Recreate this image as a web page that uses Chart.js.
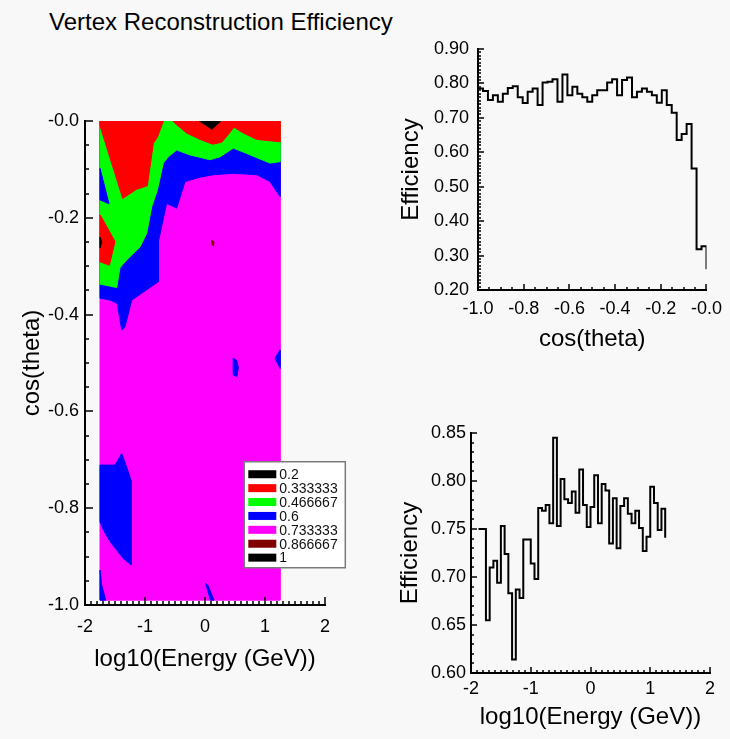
<!DOCTYPE html>
<html>
<head>
<meta charset="utf-8">
<title>Vertex Reconstruction Efficiency</title>
<script src="https://cdn.jsdelivr.net/npm/chart.js@4.4.1/dist/chart.umd.min.js"></script>
<style>
  html, body { margin: 0; padding: 0; background: #f8f8f8; }
  body { width: 730px; height: 739px; position: relative; overflow: hidden; font-family: 'Liberation Sans', Arial, sans-serif; }
  #title { position: absolute; left: 49px; top: 10px; font-size: 24px; line-height: 24px; color: #000; white-space: nowrap; }
  canvas { position: absolute; }
  #contourChart { left: 0; top: 100px; }
  #cosChart { left: 380px; top: 20px; }
  #energyChart { left: 380px; top: 400px; }
</style>
</head>
<body>
<div id="title">Vertex Reconstruction Efficiency</div>
<canvas id="contourChart" width="360" height="580"></canvas>
<canvas id="cosChart" width="350" height="345"></canvas>
<canvas id="energyChart" width="350" height="339"></canvas>

<script>
// ---- data ----

// efficiency vs cos(theta), 46 bins from -1.0 to 0.0
const cosRange = [-1.0, 0.0];
const cosEfficiency = [
  0.785, 0.778, 0.752, 0.766, 0.747, 0.770, 0.787, 0.792, 0.760, 0.743,
  0.776, 0.785, 0.737, 0.803, 0.805, 0.812, 0.747, 0.826, 0.766, 0.790,
  0.770, 0.760, 0.747, 0.766, 0.780, 0.780, 0.803, 0.812, 0.766, 0.810,
  0.817, 0.760, 0.776, 0.785, 0.776, 0.766, 0.744, 0.780, 0.737, 0.715,
  0.636, 0.653, 0.682, 0.553, 0.318, 0.327
];
const cosClosingValue = 0.26;

// efficiency vs log10(E), 50 bins of 0.0625 starting at -1.875
const energyStart = -1.875;
const energyBinWidth = 0.0625;
const energyEfficiency = [
  0.750, 0.750, 0.655, 0.710, 0.717, 0.694, 0.753, 0.724, 0.683, 0.614,
  0.687, 0.678, 0.739, 0.739, 0.714, 0.698, 0.772, 0.769, 0.775, 0.756,
  0.845, 0.753, 0.802, 0.781, 0.777, 0.789, 0.767, 0.812, 0.775, 0.752,
  0.773, 0.806, 0.756, 0.797, 0.790, 0.735, 0.782, 0.730, 0.774, 0.782,
  0.766, 0.756, 0.769, 0.751, 0.727, 0.742, 0.794, 0.777, 0.749, 0.771
];
const energyClosingValue = 0.741;

// contour levels and their colours
const levelValues = ['0.2', '0.333333', '0.466667', '0.6', '0.733333', '0.866667', '1'];
const levelColors = ['#000000', '#ff0000', '#00ff00', '#0000ff', '#ff00ff', '#800000', '#000000'];

// contour map extent, [log10(E), cos(theta)]
const mapEnergyRange = [-1.75, 1.25];
const mapCosRange = [-0.99, 0.0];

// level boundaries, [log10(E), cos(theta)] from left to right
const magentaTop = [[-1.75, -0.366], [-1.583, -0.370], [-1.462, -0.377], [-1.388, -0.432], [-1.333, -0.425],
  [-1.222, -0.370], [-0.778, -0.332], [-0.778, -0.249], [-0.639, -0.170], [-0.472, -0.180], [-0.333, -0.125],
  [-0.083, -0.116], [0.138, -0.111], [0.472, -0.108], [0.862, -0.111], [1.083, -0.125], [1.25, -0.156]];
const blueTop = [[-1.75, -0.337], [-1.472, -0.344], [-1.417, -0.303], [-1.305, -0.287], [-1.083, -0.260],
  [-0.972, -0.232], [-0.888, -0.177], [-0.795, -0.143], [-0.695, -0.087], [-0.612, -0.074], [-0.472, -0.060],
  [-0.25, -0.070], [0.083, -0.080], [0.25, -0.074], [0.472, -0.056], [0.695, -0.067], [1.083, -0.087], [1.25, -0.084]];

// closed regions
const redTopLeft = [[-1.75, 0], [-0.694, 0], [-0.794, -0.034], [-0.861, -0.046], [-0.961, -0.134],
  [-1.139, -0.141], [-1.372, -0.160], [-1.75, -0.010]];
const redTopRight = [[-0.539, 0], [1.25, 0], [1.25, -0.043], [0.861, -0.038], [0.639, -0.025], [0.483, -0.013],
  [0.361, -0.032], [0.278, -0.044], [0.128, -0.048], [-0.083, -0.038], [-0.306, -0.025], [-0.472, -0.008]];
const redLeftSpot = [[-1.75, -0.194], [-1.72, -0.200], [-1.5, -0.249], [-1.594, -0.298], [-1.75, -0.291]];
const blueLeftSliver = [[-1.75, -0.098], [-1.6, -0.171], [-1.75, -0.163]];
const blackTop = [[-0.095, 0], [0.262, 0], [0.117, -0.017]];
const blackLeft = [[-1.75, -0.240], [-1.72, -0.250], [-1.75, -0.262]];
const darkRedSpot = [[0.11, -0.246], [0.15, -0.250], [0.14, -0.258], [0.12, -0.256]];
const blueLowLeft = [[-1.75, -0.711], [-1.5, -0.711], [-1.388, -0.687], [-1.278, -0.725], [-1.233, -0.742],
  [-1.233, -0.917], [-1.361, -0.904], [-1.583, -0.869], [-1.695, -0.845], [-1.75, -0.828]];
const blueCorner = [[-1.75, -0.928], [-1.722, -0.959], [-1.655, -0.99], [-1.75, -0.99]];
const blueBottomMid = [[0.01, -0.955], [0.05, -0.960], [0.15, -0.99], [0.09, -0.99]];
const blueSpot = [[0.47, -0.490], [0.53, -0.495], [0.555, -0.510], [0.53, -0.528], [0.475, -0.525]];
const blueRightEdge = [[1.167, -0.490], [1.25, -0.473], [1.25, -0.511]];

// legend position, in data units of the map
const legendAnchor = [0.655, -0.704];

// ---- helpers ----

Chart.defaults.font.family = "'Liberation Sans', Arial, Helvetica, sans-serif";
Chart.defaults.color = '#000';
Chart.defaults.animation = false;

const tickFont = { size: 18 };
const titleFont = { size: 24 };

// ROOT prints the upper end of a negative axis as "-0.0"
function negLabel(v) {
  return v <= 0 ? '-' + Math.abs(v).toFixed(1) : v.toFixed(1);
}

function polygon(points, color) {
  const data = points.map(([x, y]) => ({ x, y }));
  data.push({ x: points[0][0], y: points[0][1] });
  return { data, backgroundColor: color, borderColor: color, borderWidth: 1, fill: 'shape', pointRadius: 0, tension: 0 };
}

function histogram(start, width, values, closing) {
  const data = values.map((v, i) => ({ x: start + i * width, y: v }));
  data.push({ x: start + values.length * width, y: closing });
  return { data, stepped: true, borderColor: '#000', borderWidth: 2, pointRadius: 0, fill: false };
}

function axis(opts) {
  return {
    type: 'linear',
    min: opts.min,
    max: opts.max,
    grid: { display: false, drawTicks: false },
    border: { display: true, color: '#000', width: 2 },
    ticks: { stepSize: opts.step, font: tickFont, padding: opts.pad, maxRotation: 0, autoSkip: false, callback: opts.fmt, color: '#000' },
    title: { display: true, text: opts.title, font: titleFont, color: '#000', padding: opts.titlePad },
    afterFit(scale) {
      if (opts.width) scale.width = opts.width;
      if (opts.height) scale.height = opts.height;
    }
  };
}

// small inward ticks, ROOT style
const rootTicks = {
  id: 'rootTicks',
  afterDatasetsDraw(chart, args, opts) {
    const { ctx, chartArea } = chart;
    ctx.save();
    ctx.strokeStyle = '#000';
    ctx.lineWidth = 1.5;
    ['x', 'y'].forEach((id) => {
      const spec = opts[id];
      if (!spec) return;
      const sc = chart.scales[id];
      const n = Math.round((sc.max - sc.min) / spec.minor);
      for (let i = 0; i <= n; i++) {
        const v = sc.min + i * spec.minor;
        const r = v / spec.major;
        const len = Math.abs(r - Math.round(r)) < 1e-6 ? spec.majorLen : spec.minorLen;
        const p = Math.round(sc.getPixelForValue(v));
        ctx.beginPath();
        if (id === 'x') {
          ctx.moveTo(p, chartArea.bottom);
          ctx.lineTo(p, chartArea.bottom - len);
        } else {
          ctx.moveTo(chartArea.left, p);
          ctx.lineTo(chartArea.left + len, p);
        }
        ctx.stroke();
      }
    });
    ctx.restore();
  }
};

const levelLegend = {
  id: 'levelLegend',
  afterDraw(chart) {
    const { ctx, scales: { x, y } } = chart;
    const left = x.getPixelForValue(legendAnchor[0]);
    const top = y.getPixelForValue(legendAnchor[1]);
    ctx.save();
    ctx.fillStyle = '#ffffff';
    ctx.fillRect(left, top, 101, 106);
    ctx.strokeStyle = '#7a7a7a';
    ctx.lineWidth = 1.5;
    ctx.strokeRect(left, top, 101, 106);
    ctx.font = "14px 'Liberation Sans', Arial, sans-serif";
    ctx.textBaseline = 'middle';
    levelValues.forEach((lab, i) => {
      const cy = top + 12.5 + i * 13.9;
      ctx.fillStyle = levelColors[i];
      ctx.fillRect(left + 4, cy - 4, 28, 8);
      ctx.fillStyle = '#111';
      ctx.fillText(lab, left + 35, cy + 1);
    });
    ctx.restore();
  }
};

// ---- contour map ----

const mapRect = [[mapEnergyRange[0], mapCosRange[1]], [mapEnergyRange[1], mapCosRange[1]],
  [mapEnergyRange[1], mapCosRange[0]], [mapEnergyRange[0], mapCosRange[0]]];
const topEdge = [[mapEnergyRange[0], mapCosRange[1]], [mapEnergyRange[1], mapCosRange[1]]];

// listed bottom layer first
const layers = [
  polygon(mapRect, levelColors[4]),
  polygon(topEdge.concat(magentaTop.slice().reverse()), levelColors[3]),
  polygon(topEdge.concat(blueTop.slice().reverse()), levelColors[2]),
  polygon(blueLeftSliver, levelColors[3]),
  polygon(redTopLeft, levelColors[1]),
  polygon(redTopRight, levelColors[1]),
  polygon(redLeftSpot, levelColors[1]),
  polygon(blackTop, levelColors[0]),
  polygon(blackLeft, levelColors[0]),
  polygon(darkRedSpot, levelColors[5]),
  polygon(blueLowLeft, levelColors[3]),
  polygon(blueCorner, levelColors[3]),
  polygon(blueBottomMid, levelColors[3]),
  polygon(blueSpot, levelColors[3]),
  polygon(blueRightEdge, levelColors[3])
];

new Chart(document.getElementById('contourChart'), {
  type: 'line',
  data: { datasets: layers.slice().reverse() },
  options: {
    responsive: false,
    events: [],
    layout: { padding: { left: 0, top: 21, right: 35, bottom: 0 } },
    plugins: {
      legend: { display: false },
      tooltip: { enabled: false },
      rootTicks: {
        x: { minor: 0.1, major: 1, minorLen: 4, majorLen: 8 },
        y: { minor: 0.05, major: 0.2, minorLen: 4, majorLen: 8 }
      }
    },
    scales: {
      x: axis({ min: -2, max: 2, step: 1, pad: 11, title: 'log10(Energy (GeV))', titlePad: { top: 0, bottom: 6 }, height: 75 }),
      y: axis({ min: -1, max: 0, step: 0.2, pad: 6, fmt: negLabel, title: 'cos(theta)', titlePad: { top: 18, bottom: 0 }, width: 85 })
    }
  },
  plugins: [rootTicks, levelLegend]
});

// ---- efficiency vs cos(theta) ----

new Chart(document.getElementById('cosChart'), {
  type: 'line',
  data: { datasets: [histogram(cosRange[0], (cosRange[1] - cosRange[0]) / cosEfficiency.length, cosEfficiency, cosClosingValue)] },
  options: {
    responsive: false,
    events: [],
    layout: { padding: { left: 0, top: 29, right: 20, bottom: 0 } },
    plugins: {
      legend: { display: false },
      tooltip: { enabled: false },
      rootTicks: {
        x: { minor: 0.05, major: 0.2, minorLen: 3, majorLen: 6 },
        y: { minor: 0.01, major: 0.1, minorLen: 3, majorLen: 6 }
      }
    },
    scales: {
      x: axis({ min: -1, max: 0, step: 0.2, pad: 8, fmt: negLabel, title: 'cos(theta)', titlePad: { top: 0, bottom: 11 }, height: 75 }),
      y: axis({ min: 0.2, max: 0.9, step: 0.1, pad: 9, fmt: (v) => v.toFixed(2), title: 'Efficiency', titlePad: { top: 17, bottom: 0 }, width: 98 })
    }
  },
  plugins: [rootTicks]
});

// ---- efficiency vs log10(E) ----

new Chart(document.getElementById('energyChart'), {
  type: 'line',
  data: { datasets: [histogram(energyStart, energyBinWidth, energyEfficiency, energyClosingValue)] },
  options: {
    responsive: false,
    events: [],
    layout: { padding: { left: 0, top: 33, right: 20, bottom: 0 } },
    plugins: {
      legend: { display: false },
      tooltip: { enabled: false },
      rootTicks: {
        x: { minor: 0.1, major: 1, minorLen: 3, majorLen: 6 },
        y: { minor: 0.01, major: 0.05, minorLen: 3, majorLen: 6 }
      }
    },
    scales: {
      x: axis({ min: -2, max: 2, step: 1, pad: 5, title: 'log10(Energy (GeV))', titlePad: { top: 0, bottom: 7 }, height: 66 }),
      y: axis({ min: 0.6, max: 0.85, step: 0.05, pad: 5, fmt: (v) => v.toFixed(2), title: 'Efficiency', titlePad: { top: 16, bottom: 0 }, width: 91 })
    }
  },
  plugins: [rootTicks]
});
</script>
</body>
</html>
